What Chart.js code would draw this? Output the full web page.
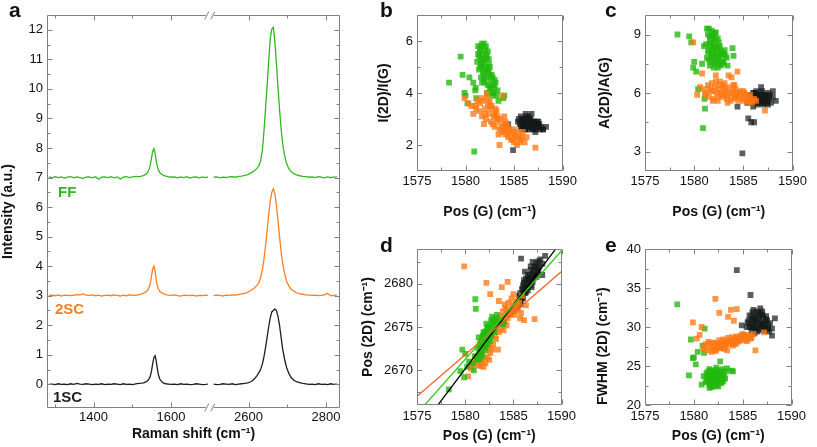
<!DOCTYPE html>
<html>
<head>
<meta charset="utf-8">
<script src="https://cdn.jsdelivr.net/npm/chart.js@4.4.0/dist/chart.umd.min.js"></script>
<style>
  body { margin: 0; background: #fff; width: 817px; height: 447px; position: relative; overflow: hidden;
         font-family: "Liberation Sans", Arial, Helvetica, sans-serif; }
  canvas { position: absolute; }
  .letter { position: absolute; font-weight: bold; font-size: 21px; line-height: 1; color: #111; }
  .tag { position: absolute; font-weight: bold; font-size: 15px; line-height: 1; }
</style>
</head>
<body>
<canvas id="chartA" width="345" height="447" style="left:0;top:0"></canvas>
<canvas id="chartB" width="210" height="222" style="left:370px;top:0"></canvas>
<canvas id="chartC" width="218" height="222" style="left:592px;top:0"></canvas>
<canvas id="chartD" width="220" height="217" style="left:360px;top:230px"></canvas>
<canvas id="chartE" width="220" height="217" style="left:590px;top:230px"></canvas>

<div class="letter" style="left:9px;top:-1px">a</div>
<div class="letter" style="left:380px;top:-1px">b</div>
<div class="letter" style="left:605px;top:-1px">c</div>
<div class="letter" style="left:380px;top:234px">d</div>
<div class="letter" style="left:605px;top:234px">e</div>

<div class="tag" style="left:58px;top:184px;color:#2dbb1b">FF</div>
<div class="tag" style="left:55px;top:301px;color:#ff7f1e">2SC</div>
<div class="tag" style="left:53px;top:389px;color:#1e1e1e">1SC</div>

<script>
// ---- spectra (panel a), intensities without the stacking offset ----
const shiftLow = [1285,1293,1301,1309,1317,1325,1333,1341,1349,1357,1365,1373,1381,1389,1397,1405,1413,1421,1429,1437,1445,1453,1461,1469,1477,1485,1493,1501,1509,1517,
  1525,1531,1536,1540,1544,1547,1550,1553,1556,1559,1562,1565,1568,1571,1575,
  1580,1586,1593,1601,1609,1617,1625,1633,1641,1649,1657,1665,1673,1681,1689,1695];
const shiftHigh = [2510,2518,2526,2534,2542,2550,2558,2566,2574,2582,2590,2598,
  2604,2610,2616,2621,2626,2631,2636,
  2640,2644,2648,2652,2656,2660,2664,2668,2672,2676,2680,2684,
  2688,2693,2698,2704,2710,2717,2724,2732,
  2740,2748,2756,2764,2772,2780,2788,2796,2804,2812,2820,2828];

const ffLow = [0.02,-0.01,0.03,0.00,0.02,-0.02,0.01,0.03,-0.01,0.02,0.00,-0.03,0.01,0.02,-0.01,0.03,-0.06,0.01,0.02,0.00,0.03,-0.01,0.02,-0.05,0.01,0.03,0.00,0.02,0.04,0.03,
  0.05,0.08,0.12,0.18,0.30,0.45,0.68,0.90,0.98,0.82,0.55,0.36,0.24,0.17,0.12,
  0.08,0.05,0.03,0.01,0.02,-0.01,0.02,0.00,0.03,-0.02,0.01,0.02,-0.01,0.02,0.00,0.01];
const sc2Low = [0.01,0.02,0.00,0.03,-0.01,0.02,0.01,0.00,0.02,0.04,0.03,0.06,0.02,0.01,0.03,0.00,0.02,-0.01,0.01,0.02,0.00,0.03,0.01,-0.01,0.02,0.00,0.03,0.02,0.01,0.04,
  0.06,0.10,0.14,0.20,0.30,0.45,0.70,0.92,1.00,0.82,0.52,0.32,0.22,0.15,0.10,
  0.07,0.04,0.02,0.01,0.03,0.00,-0.01,0.02,0.01,0.00,0.02,-0.01,0.01,0.00,0.02,0.01];
const sc1Low = [0.00,0.01,-0.01,0.02,0.00,0.01,-0.01,0.02,0.00,0.03,0.01,0.00,0.02,0.01,-0.01,0.01,0.00,0.02,-0.01,0.01,0.00,0.02,0.01,-0.01,0.02,0.00,0.01,-0.01,0.02,0.03,
  0.04,0.06,0.09,0.13,0.20,0.30,0.48,0.72,0.92,0.97,0.78,0.50,0.30,0.18,0.10,
  0.05,0.02,0.01,0.00,0.01,-0.01,0.02,0.00,0.01,-0.01,0.00,0.02,0.01,-0.01,0.00,0.01];

const ffHigh = [0.01,0.02,-0.01,0.01,0.00,0.02,0.03,0.01,0.04,0.05,0.07,0.10,
  0.14,0.18,0.24,0.30,0.38,0.55,0.95,
  1.60,2.35,3.10,3.95,4.70,5.02,5.08,4.60,3.85,3.05,2.30,1.65,
  1.15,0.75,0.48,0.30,0.20,0.13,0.09,0.06,
  0.04,0.03,0.01,0.02,0.00,0.03,0.01,-0.01,0.02,0.00,0.01,0.02];
const sc2High = [0.00,0.02,0.01,-0.01,0.02,0.01,0.03,0.02,0.04,0.06,0.08,0.12,
  0.16,0.21,0.27,0.34,0.42,0.60,0.90,
  1.25,1.70,2.20,2.75,3.20,3.50,3.62,3.45,3.05,2.55,2.00,1.50,
  1.10,0.75,0.50,0.33,0.22,0.15,0.10,0.07,
  0.05,0.03,0.02,0.01,0.02,0.00,0.01,0.03,0.08,0.00,0.01,0.02];
const sc1High = [0.01,-0.01,0.00,0.02,0.01,0.00,0.02,-0.01,0.01,0.02,0.03,0.05,
  0.08,0.12,0.20,0.28,0.38,0.50,0.70,
  0.95,1.25,1.60,1.95,2.25,2.45,2.50,2.55,2.50,2.30,2.00,1.60,
  1.20,0.85,0.58,0.37,0.23,0.14,0.09,0.06,
  0.03,0.02,0.00,0.01,-0.01,0.02,0.00,0.01,-0.01,0.02,0.00,0.01];

const sampleNames = ['FF', '2SC', '1SC'];
const spectrumOffsets = [7, 3, 0];
const lineColors = ['#2dbb1b', '#ff7f1e', '#1e1e1e'];
const pointColors = ['rgba(35,185,15,0.8)', 'rgba(255,120,20,0.78)', 'rgba(20,25,25,0.7)'];

// broken x axis of panel a
const breakLow = 1700, breakHigh = 2500;
const shiftTicks = [1400, 1600, 2600, 2800];
const shiftMinor = [1300, 1500, 2700];
const intensityTicks = [0,1,2,3,4,5,6,7,8,9,10,11,12];

// ---- per-spot fits (panels b-e); same spots share Pos(G) ----
const posG_FF = [1578.3,1579.5,1579.7,1579.9,1580.0,1580.2,1580.4,1580.9,1581.05,1581.1,1580.8,1581.0,1583.9,1582.7,1584.0,
  1581.3,1581.5,1581.6,1581.7,1581.8,1581.9,1582.0,1582.1,1582.2,1582.3,1582.4,1582.5,1582.6,1582.8,1582.9,1583.1,1583.3,
  1581.4,1581.6,1581.7,1581.9,1582.0,1582.1,1582.3,1582.4,1582.7,1581.2,1581.5,1581.8,1582.2,1582.5,1582.8,1583.0,1581.4,1583.4,
  1581.5,1581.6,1581.7,1581.8,1581.9,1582.0,1582.1,1582.2,1582.3,1582.4,1582.5,1582.6,1582.7,1582.9,1583.0,1583.2,1581.3,1581.6,1581.9,1582.1];
const ratioI_FF = [4.4,5.4,4.7,4.0,3.9,3.6,4.6,1.75,4.2,3.8,4.4,4.1,3.8,4.3,3.9,
  5.8,5.6,5.3,5.9,5.5,5.2,5.7,5.0,5.4,4.9,5.1,4.7,4.5,4.6,4.3,4.4,4.1,
  4.9,4.6,5.1,4.7,4.4,5.5,4.3,5.3,4.0,5.2,5.7,4.8,4.6,4.2,3.9,4.2,5.4,3.7,
  5.0,5.8,4.4,5.3,5.9,4.9,5.3,4.0,5.6,4.8,5.0,4.2,4.7,4.0,4.5,3.9,5.5,5.1,4.5,5.8];
const ratioA_FF = [9.0,8.9,8.6,7.3,7.6,7.1,6.2,4.2,5.7,5.2,7.5,8.4,8.3,8.1,7.9,
  9.3,9.3,8.9,8.6,9.2,8.4,8.0,8.8,7.7,8.3,7.9,8.6,7.5,8.1,7.6,8.2,7.8,
  8.1,7.4,8.0,7.8,8.5,7.5,8.0,7.3,7.9,8.5,7.7,8.9,9.1,8.3,7.6,8.0,9.0,7.4,
  8.2,8.7,7.6,7.9,9.0,7.3,8.3,8.7,7.6,8.8,7.8,8.4,7.4,8.0,7.5,7.9,7.8,8.4,8.2,9.1];
const pos2D_FF = [2667.8,2669.9,2672.4,2669.2,2671.9,2670.4,2671.0,2670.0,2678.2,2677.1,2670.8,2671.6,2675.3,2674.5,2675.5,
  2672.6,2673.0,2672.4,2673.4,2673.1,2674.0,2673.6,2674.5,2673.8,2674.9,2674.3,2675.1,2674.6,2675.6,2675.0,2676.0,2676.4,
  2671.8,2672.9,2672.1,2673.3,2672.8,2673.5,2673.9,2674.7,2674.1,2671.5,2671.3,2672.5,2675.4,2673.7,2676.2,2674.4,2673.8,2675.8,
  2672.0,2673.2,2671.7,2673.9,2672.6,2674.2,2672.3,2674.4,2673.0,2675.0,2674.0,2673.4,2675.8,2674.6,2675.6,2675.2,2671.2,2671.6,2674.4,2673.0];
const fwhm2D_FF = [32.9,23.8,28.4,26.0,26.1,25.2,26.8,27.6,26.7,29.8,22.6,23.7,24.4,25.6,24.3,
  24.1,23.0,22.6,23.5,22.3,24.2,23.2,22.8,23.9,24.5,22.5,23.4,24.0,23.1,24.6,23.7,24.3,
  23.8,24.6,22.9,23.6,22.4,24.0,23.3,22.7,23.8,22.9,24.3,22.4,23.5,24.1,22.8,23.0,23.1,24.7,
  23.6,22.2,24.4,23.0,22.6,24.4,23.7,22.6,24.8,23.6,22.4,24.3,23.0,23.9,24.2,23.4,23.4,23.9,23.0,22.9];

const posG_2SC = [1579.9,1580.8,1582.2,1582.6,1583.8,1584.4,1583.5,1587.2,1586.3,1580.6,1584.1,1580.3,
  1581.0,1581.2,1581.4,1581.5,1581.7,1581.8,1582.0,1582.1,1582.3,1582.4,
  1582.6,1582.7,1582.9,1583.0,1583.2,1583.3,1583.5,1583.6,1583.8,1583.9,
  1584.1,1584.2,1584.4,1584.5,1584.7,1584.8,1585.0,1585.1,1585.3,1585.5,
  1585.7,1585.9,1586.1,1582.2,1583.1,1584.0,1581.9,1583.4,
  1581.1,1581.6,1582.0,1582.5,1582.8,1583.0,1583.3,1583.7,1584.0,1584.3,
  1584.6,1584.9,1585.2,1585.4,1585.6,1585.8,1583.2,1584.3,1582.5,1585.0];
const ratioI_2SC = [3.8,3.2,3.95,3.4,3.9,2.6,2.0,1.9,2.3,3.5,2.9,3.6,
  3.5,3.7,3.3,3.6,3.1,3.7,3.4,3.0,3.6,3.2,
  2.9,3.5,3.1,2.7,3.3,2.9,2.6,3.0,2.5,2.8,
  2.4,2.7,2.3,2.6,2.2,2.5,2.1,2.4,2.0,2.3,
  2.2,2.5,2.1,3.8,3.4,3.1,2.8,2.4,
  3.4,3.8,3.2,3.5,2.8,3.2,3.1,2.7,2.6,2.5,
  2.4,2.2,2.3,2.5,2.1,2.3,3.0,2.8,3.7,2.6];
const ratioA_2SC = [8.6,7.0,6.9,6.6,6.8,7.1,6.9,5.1,5.6,6.3,6.4,5.9,
  6.2,6.0,6.4,5.8,6.1,6.5,5.7,6.3,6.0,5.6,
  6.2,5.9,6.4,5.8,6.1,5.7,6.0,6.3,5.8,6.0,
  5.7,6.2,5.9,5.6,6.1,5.8,5.6,6.0,5.7,5.5,
  5.9,5.5,5.7,6.6,6.5,6.4,5.6,5.5,
  5.9,6.2,6.1,5.8,6.0,6.3,5.9,5.6,6.1,5.8,
  6.0,5.7,5.9,5.6,5.8,5.6,6.2,5.9,6.4,6.1];
const pos2D_2SC = [2682.0,2670.5,2680.1,2678.8,2679.6,2680.2,2678.0,2675.9,2677.5,2670.2,2677.6,2669.3,
  2670.9,2671.3,2670.6,2672.2,2671.0,2671.8,2672.6,2670.8,2671.5,2673.2,
  2672.0,2674.1,2673.0,2674.8,2673.6,2675.6,2674.4,2676.2,2675.0,2676.8,
  2675.6,2677.2,2676.0,2677.8,2676.6,2678.3,2677.2,2676.4,2678.0,2677.0,
  2676.0,2678.6,2675.8,2672.8,2673.9,2674.6,2670.4,2672.4,
  2671.6,2670.5,2671.4,2672.6,2672.4,2675.2,2674.6,2675.4,2676.2,2677.0,
  2676.4,2677.6,2676.8,2677.6,2677.8,2676.6,2676.0,2675.2,2671.2,2678.8];
const fwhm2D_2SC = [30.6,30.0,33.6,31.8,32.2,32.3,31.3,29.3,27.0,29.0,30.8,28.5,
  27.2,27.8,27.0,28.1,27.4,26.8,27.6,28.0,27.1,27.9,
  28.3,27.3,27.7,28.4,27.5,28.1,28.6,27.8,28.2,28.7,
  27.9,28.4,28.8,28.1,28.5,28.9,28.3,28.7,29.0,28.4,
  28.9,28.6,29.1,26.9,27.2,27.6,27.9,27.0,
  27.5,27.9,27.1,27.6,28.0,27.4,27.9,28.3,28.0,28.6,
  28.2,28.6,28.8,28.2,28.7,28.5,28.2,27.8,27.4,29.1];

const posG_1SC = [1584.9,1584.4,1585.8,1585.5,1586.1,1588.3,1588.0,1587.5,1586.8,
  1585.6,1585.7,1585.9,1586.0,1586.1,1586.2,1586.3,1586.4,1586.5,1586.6,
  1586.7,1586.8,1586.9,1587.0,1587.1,1587.2,1587.3,1587.4,1587.6,1587.7,
  1585.8,1586.0,1586.3,1586.6,1586.9,1587.2,1587.5,1585.4,1586.2,1587.8,1588.0,
  1585.7,1586.0,1586.2,1586.4,1586.5,1586.7,1586.8,1587.0,1587.1,1587.3,1587.4,1587.6,1586.1,1586.5,1587.0,1585.9];
const ratioI_1SC = [1.8,2.8,2.9,3.0,2.6,2.7,2.6,2.9,3.2,
  2.8,3.1,2.7,3.0,2.9,2.6,3.1,2.8,2.9,2.7,
  3.0,2.8,2.6,2.9,2.7,2.8,2.6,2.9,2.7,2.6,
  2.6,2.8,2.7,3.0,2.9,2.5,2.8,2.9,3.2,2.7,2.6,
  2.7,2.9,2.7,3.0,2.6,2.8,2.7,2.6,2.9,2.8,2.7,2.8,2.8,3.1,2.7,3.0];
const ratioA_1SC = [2.9,5.3,4.5,4.7,4.5,5.6,6.1,5.4,6.3,
  5.7,5.9,5.5,6.0,5.6,5.8,6.1,5.4,5.9,5.7,
  5.5,6.0,5.8,5.6,5.9,5.5,5.8,5.6,5.7,5.9,
  5.8,5.3,6.0,5.6,6.1,5.7,6.0,5.5,5.7,5.5,5.8,
  5.6,5.8,5.5,5.9,5.6,5.8,5.5,5.9,5.7,5.9,5.5,5.8,6.0,5.7,5.4,5.9];
const pos2D_1SC = [2677.0,2676.5,2682.9,2677.8,2679.0,2683.2,2682.3,2681.8,2682.0,
  2678.6,2677.6,2679.4,2678.3,2680.1,2678.9,2680.6,2679.5,2681.0,2679.9,
  2680.7,2681.6,2680.2,2681.2,2680.6,2681.9,2681.1,2682.4,2681.5,2682.0,
  2678.0,2679.2,2679.0,2680.5,2679.6,2680.9,2681.3,2677.2,2681.4,2682.8,2681.0,
  2678.9,2679.8,2679.6,2680.0,2680.4,2681.0,2679.8,2680.2,2681.6,2682.0,2680.8,2682.6,2680.4,2679.2,2682.5,2678.4];
const fwhm2D_1SC = [30.2,37.3,34.1,30.6,30.0,31.1,28.9,29.7,32.4,
  30.8,31.5,29.5,31.9,30.4,29.2,31.2,30.0,32.0,29.6,
  30.9,31.6,29.8,30.5,31.3,29.9,30.7,31.0,30.2,29.4,
  30.3,29.9,30.6,31.8,30.3,29.5,30.8,30.0,31.0,30.5,29.8,
  30.0,30.9,31.5,29.8,30.6,31.2,30.1,31.6,30.4,30.0,31.4,29.8,32.2,29.4,32.0,31.2];

// linear fits of Pos(2D) vs Pos(G), end points at the axis limits
const fitX = [1575, 1590];
const fitY_FF = [2665.0, 2683.8];
const fitY_2SC = [2667.0, 2681.4];
const fitY_1SC = [2662.8, 2684.9];

const posGTicks = [1575, 1580, 1585, 1590];
const posGMinor = [1577.5, 1582.5, 1587.5];

Chart.defaults.font.family = '"Liberation Sans", Arial, Helvetica, sans-serif';
Chart.defaults.font.size = 13;
Chart.defaults.color = '#111';
Chart.defaults.animation = false;

// inward ticks on all four sides + grey frame (+ optional axis break)
const frameTicks = {
  id: 'frameTicks',
  afterDatasetsDraw(chart, args, o) {
    const {ctx, chartArea: a} = chart;
    const xs = chart.scales.x, ys = chart.scales.y;
    const L = Math.round(a.left) + 0.5, R = Math.round(a.right) - 0.5;
    const T = Math.round(a.top) + 0.5, B = Math.round(a.bottom) - 0.5;
    ctx.save();
    ctx.strokeStyle = '#808080';
    ctx.lineWidth = 1;
    ctx.beginPath();
    ctx.rect(L, T, R - L, B - T);
    const tickX = (vals, len) => (vals || []).forEach(v => {
      const p = Math.round(xs.getPixelForValue(v)) + 0.5;
      ctx.moveTo(p, B); ctx.lineTo(p, B - len);
      ctx.moveTo(p, T); ctx.lineTo(p, T + len);
    });
    const tickY = (vals, len) => (vals || []).forEach(v => {
      const p = Math.round(ys.getPixelForValue(v)) + 0.5;
      ctx.moveTo(L, p); ctx.lineTo(L + len, p);
      ctx.moveTo(R, p); ctx.lineTo(R - len, p);
    });
    tickX(o.xMajor, 5); tickX(o.xMinor, 3);
    tickY(o.yMajor, 5); tickY(o.yMinor, 3);
    ctx.stroke();
    if (o.breakAt != null) {
      const p = xs.getPixelForValue(o.breakAt);
      [T, B].forEach(yy => {
        ctx.fillStyle = '#fff';
        ctx.fillRect(p - 4, yy - 2, 8, 4);
        ctx.beginPath();
        ctx.moveTo(p - 5, yy + 4); ctx.lineTo(p - 1, yy - 4);
        ctx.moveTo(p + 1, yy + 4); ctx.lineTo(p + 5, yy - 4);
        ctx.stroke();
      });
    }
    ctx.restore();
  }
};
Chart.register(frameTicks);

function axis(min, max, ticks, o) {
  return {
    type: 'linear', min, max, position: o.position,
    grid: {display: false, drawTicks: false},
    border: {display: false},
    afterBuildTicks: s => { s.ticks = ticks.map(v => ({value: v})); },
    afterFit: s => { if (o.position === 'left') s.width = o.size; else s.height = o.size; },
    ticks: {padding: o.tickPad, color: '#111', font: {size: 13}, maxRotation: 0, autoSkip: false,
            callback: o.label || (v => v)},
    title: {display: true, text: o.title, color: '#111', font: {size: 14, weight: 'bold'},
            padding: o.titlePad, align: o.align || 'center'}
  };
}

// ---- panel a ----
const toAxis = s => s >= breakHigh ? s - (breakHigh - breakLow) : s;
const fromAxis = v => v > breakLow ? v + (breakHigh - breakLow) : v;
const spectraLow = [ffLow, sc2Low, sc1Low];
const spectraHigh = [ffHigh, sc2High, sc1High];

new Chart(document.getElementById('chartA'), {
  type: 'scatter',
  data: {
    datasets: sampleNames.map((name, k) => ({
      label: name,
      showLine: true,
      spanGaps: false,
      borderColor: lineColors[k],
      borderWidth: 1.3,
      pointRadius: 0,
      data: [
        ...shiftLow.map((s, i) => ({x: s, y: spectraLow[k][i] + spectrumOffsets[k]})),
        {x: breakLow, y: null},
        ...shiftHigh.map((s, i) => ({x: toAxis(s), y: spectraHigh[k][i] + spectrumOffsets[k]}))
      ]
    }))
  },
  options: {
    responsive: false,
    events: [],
    layout: {padding: {left: 0, top: 15, right: 5, bottom: 0}},
    plugins: {
      legend: {display: false}, tooltip: {enabled: false},
      frameTicks: {xMajor: shiftTicks.map(toAxis), xMinor: shiftMinor.map(toAxis),
                   yMajor: intensityTicks, yMinor: intensityTicks.map(v => v + 0.5).slice(0, 12),
                   breakAt: breakLow}
    },
    scales: {
      x: axis(1280, 2036, shiftTicks.map(toAxis), {position: 'bottom', size: 39, tickPad: 2, titlePad: 4,
              title: 'Raman shift (cm\u207B\u00B9)', label: v => fromAxis(v)}),
      y: axis(-0.8, 12.5, intensityTicks, {position: 'left', size: 47, tickPad: 4, titlePad: 0,
              title: 'Intensity (a.u.)'})
    }
  }
});

// ---- panels b-e ----
const posG = [posG_FF, posG_2SC, posG_1SC];

// order: lower number is drawn on top
function cloud(yArrays, drawOrder) {
  return sampleNames.map((name, k) => ({
    label: name,
    order: drawOrder[k],
    pointStyle: 'rect',
    pointRadius: 4.1,
    borderWidth: 0,
    backgroundColor: pointColors[k],
    data: posG[k].map((x, i) => ({x, y: yArrays[k][i]}))
  }));
}

function panel(id, datasets, y, geo) {
  return new Chart(document.getElementById(id), {
    type: 'scatter',
    data: {datasets},
    options: {
      responsive: false,
      events: [],
      layout: {padding: {left: 0, top: geo.top, right: geo.right, bottom: 0}},
      plugins: {
        legend: {display: false}, tooltip: {enabled: false},
        frameTicks: {xMajor: posGTicks, xMinor: posGMinor, yMajor: y.ticks, yMinor: y.minor}
      },
      scales: {
        x: axis(1575, 1590, posGTicks, {position: 'bottom', size: geo.xH, tickPad: geo.xPad, titlePad: geo.xTitlePad,
                title: 'Pos (G) (cm\u207B\u00B9)'}),
        y: axis(y.min, y.max, y.ticks, {position: 'left', size: geo.yW, tickPad: 4, titlePad: geo.yTitlePad,
                title: y.title, align: y.align})
      }
    }
  });
}

panel('chartB', cloud([ratioI_FF, ratioI_2SC, ratioI_1SC], [2, 1, 3]),
  {min: 1, max: 7, ticks: [2, 4, 6], minor: [3, 5], title: 'I(2D)/I(G)'},
  {top: 15, right: 7, yW: 47, xH: 51, xPad: 3, xTitlePad: 1, yTitlePad: 6});

panel('chartC', cloud([ratioA_FF, ratioA_2SC, ratioA_1SC], [2, 1, 3]),
  {min: 2, max: 10, ticks: [3, 6, 9], minor: [4.5, 7.5], title: 'A(2D)/A(G)'},
  {top: 15, right: 10, yW: 53, xH: 51, xPad: 3, xTitlePad: 1, yTitlePad: 5});

const fitSets = [fitY_FF, fitY_2SC, fitY_1SC].map((fy, k) => ({
  label: sampleNames[k] + ' fit',
  order: 0,
  showLine: true,
  borderColor: ['#33cc11', '#f2601e', '#000000'][k],
  borderWidth: 1.3,
  pointRadius: 0,
  data: fitX.map((x, i) => ({x, y: fy[i]}))
}));

panel('chartD', [...fitSets, ...cloud([pos2D_FF, pos2D_2SC, pos2D_1SC], [1, 2, 3])],
  {min: 2666, max: 2684, ticks: [2670, 2675, 2680], minor: [2667.5, 2672.5, 2677.5, 2682.5], title: 'Pos (2D) (cm\u207B\u00B9)'},
  {top: 19, right: 7, yW: 57, xH: 42, xPad: 4, xTitlePad: 2, yTitlePad: 0});

panel('chartE', cloud([fwhm2D_FF, fwhm2D_2SC, fwhm2D_1SC], [2, 1, 3]),
  {min: 20, max: 40, ticks: [20, 25, 30, 35, 40], minor: [22.5, 27.5, 32.5, 37.5], title: 'FWHM (2D) (cm\u207B\u00B9)', align: 'start'},
  {top: 19, right: 10, yW: 55, xH: 42, xPad: 4, xTitlePad: 2, yTitlePad: 5});
</script>
</body>
</html>
